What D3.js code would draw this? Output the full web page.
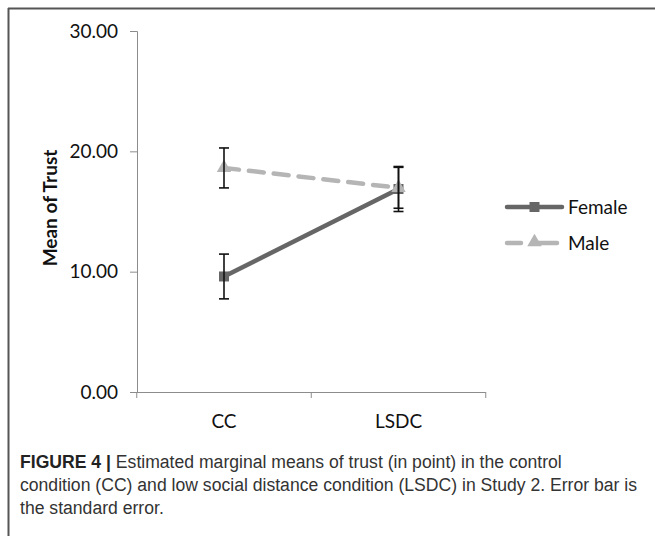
<!DOCTYPE html>
<html>
<head>
<meta charset="utf-8">
<script src="https://cdn.jsdelivr.net/npm/d3@7"></script>
<style>
  body { margin: 0; background: #fff; }
  .caption { font-family: "Liberation Sans", Arial, sans-serif; }
</style>
</head>
<body>
<div id="chart"></div>
<script>
// data
const conditions = ["CC", "LSDC"];
const femaleMeans = [9.6, 16.87];
const femaleSE = [1.86, 1.87];
const maleMeans = [18.62, 16.97];
const maleSE = [1.66, 1.7];
const yTicks = [0, 10, 20, 30];

const svg = d3.select("#chart")
  .append("svg")
  .attr("width", 655)
  .attr("height", 536);

// frame (only top and left edges show in the crop)
svg.append("line").attr("x1", 8).attr("x2", 655).attr("y1", 8.5).attr("y2", 8.5)
  .attr("stroke", "#555").attr("stroke-width", 2);
svg.append("line").attr("x1", 8.5).attr("x2", 8.5).attr("y1", 8).attr("y2", 536)
  .attr("stroke", "#555").attr("stroke-width", 2);

const chartFont = "Lato, 'Open Sans', sans-serif";
const fs = 19;

// scales
const xScale = d3.scalePoint().domain(conditions).range([224, 398.5]).padding(0);
const yScale = d3.scaleLinear().domain([0, 30]).range([392, 31]);

// y axis
const yAxis = d3.axisLeft(yScale).tickValues(yTicks).tickFormat(d3.format(".2f")).tickSize(7).tickPadding(12);
const gy = svg.append("g").attr("transform", "translate(137,0)").call(yAxis);
gy.select(".domain").attr("stroke", "#8c8c8c");
gy.selectAll(".tick line").attr("stroke", "#8c8c8c");
gy.selectAll(".tick text").attr("font-family", chartFont).attr("font-size", fs).attr("fill", "#111");

// x axis: ticks sit between categories
const step = xScale(conditions[1]) - xScale(conditions[0]);
const xEdges = [xScale(conditions[0]) - step / 2, xScale(conditions[0]) + step / 2, xScale(conditions[1]) + step / 2];
const gx = svg.append("g").attr("transform", "translate(0,392)");
gx.append("line").attr("x1", xEdges[0]).attr("x2", xEdges[2]).attr("y1", 0.5).attr("y2", 0.5).attr("stroke", "#8c8c8c");
gx.selectAll(".xt").data(xEdges).join("line")
  .attr("x1", d => d).attr("x2", d => d).attr("y1", 0).attr("y2", 6).attr("stroke", "#8c8c8c");
gx.selectAll(".xl").data(conditions).join("text")
  .attr("x", d => xScale(d)).attr("y", 36)
  .attr("text-anchor", "middle")
  .attr("font-family", chartFont).attr("font-size", fs).attr("fill", "#111")
  .text(d => d);

// y label
svg.append("text")
  .attr("transform", "translate(57,208) rotate(-90)")
  .attr("text-anchor", "middle")
  .attr("font-family", chartFont).attr("font-size", fs).attr("font-weight", "bold").attr("fill", "#111")
  .text("Mean of Trust");

const female = conditions.map((c, i) => ({ c: c, v: femaleMeans[i], se: femaleSE[i] }));
const male = conditions.map((c, i) => ({ c: c, v: maleMeans[i], se: maleSE[i] }));

const line = d3.line().x(d => xScale(d.c)).y(d => yScale(d.v));

// lines
svg.append("path").datum(male)
  .attr("fill", "none").attr("stroke", "#b5b5b5").attr("stroke-width", 4.5)
  .attr("stroke-dasharray", "15,10").attr("stroke-linecap", "round")
  .attr("d", line);
svg.append("path").datum(female)
  .attr("fill", "none").attr("stroke", "#666").attr("stroke-width", 4.5)
  .attr("stroke-linecap", "round")
  .attr("d", line);

// markers
svg.selectAll(".sq").data(female).join("rect")
  .attr("x", d => xScale(d.c) - 5).attr("y", d => yScale(d.v) - 5)
  .attr("width", 10).attr("height", 10).attr("fill", "#666");
const tri = d3.symbol().type(d3.symbolTriangle).size(90);
svg.selectAll(".tri").data(male).join("path")
  .attr("transform", d => `translate(${xScale(d.c)},${yScale(d.v)})`)
  .attr("d", tri).attr("fill", "#b5b5b5");

// error bars
function errorBars(data) {
  const g = svg.append("g").attr("stroke", "#111").attr("stroke-width", 1.6);
  data.forEach(d => {
    const x = xScale(d.c);
    const y1 = yScale(d.v + d.se), y2 = yScale(d.v - d.se);
    g.append("line").attr("x1", x).attr("x2", x).attr("y1", y1).attr("y2", y2);
    g.append("line").attr("x1", x - 5).attr("x2", x + 5).attr("y1", y1).attr("y2", y1);
    g.append("line").attr("x1", x - 5).attr("x2", x + 5).attr("y1", y2).attr("y2", y2);
  });
}
errorBars(female);
errorBars(male);

// legend
const lg = svg.append("g").attr("transform", "translate(507,0)");
lg.append("line").attr("x1", 0).attr("x2", 55).attr("y1", 207).attr("y2", 207)
  .attr("stroke", "#666").attr("stroke-width", 4.5).attr("stroke-linecap", "round");
lg.append("rect").attr("x", 22.5).attr("y", 202).attr("width", 10).attr("height", 10).attr("fill", "#666");
lg.append("text").attr("x", 61).attr("y", 214).attr("font-family", chartFont).attr("font-size", fs).attr("fill", "#111").text("Female");
lg.append("line").attr("x1", 0).attr("x2", 14).attr("y1", 243).attr("y2", 243)
  .attr("stroke", "#b5b5b5").attr("stroke-width", 4.5).attr("stroke-linecap", "round");
lg.append("line").attr("x1", 27).attr("x2", 50).attr("y1", 243).attr("y2", 243)
  .attr("stroke", "#b5b5b5").attr("stroke-width", 4.5).attr("stroke-linecap", "round");
lg.append("path").attr("transform", "translate(27.5,242)").attr("d", tri).attr("fill", "#b5b5b5");
lg.append("text").attr("x", 61).attr("y", 250).attr("font-family", chartFont).attr("font-size", fs).attr("fill", "#111").text("Male");

// caption
const cap = svg.append("g").attr("class", "caption").attr("font-size", 17.6).attr("fill", "#333");
const t1 = cap.append("text").attr("x", 20).attr("y", 468);
t1.append("tspan").attr("font-weight", "bold").attr("fill", "#222").text("FIGURE 4 | ");
t1.append("tspan").text("Estimated marginal means of trust (in point) in the control");
cap.append("text").attr("x", 20).attr("y", 491)
  .text("condition (CC) and low social distance condition (LSDC) in Study 2. Error bar is");
cap.append("text").attr("x", 20).attr("y", 514).text("the standard error.");
</script>
</body>
</html>
